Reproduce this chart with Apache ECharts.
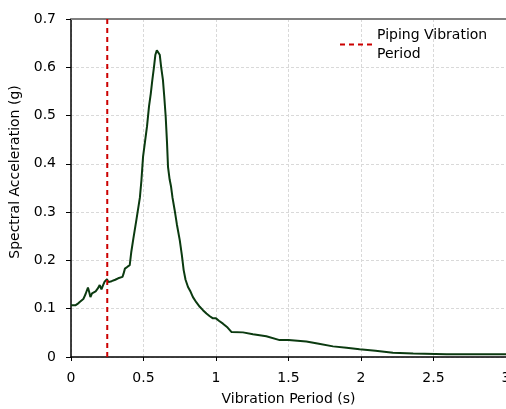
<!DOCTYPE html>
<html>
<head>
<meta charset="utf-8">
<script src="https://cdn.jsdelivr.net/npm/echarts@6/dist/echarts.min.js"></script>
<style>
  html, body { margin: 0; padding: 0; background: #fff; }
  #chart { width: 506px; height: 409px; }
</style>
</head>
<body>
<div id="chart"></div>
<script>
// spectrum
var periods = [0, 0.03, 0.045, 0.06, 0.07, 0.085, 0.1, 0.117, 0.125, 0.134, 0.145, 0.155, 0.17, 0.185, 0.198,
    0.21, 0.22, 0.232, 0.248, 0.258, 0.267, 0.28, 0.29, 0.305, 0.315, 0.325, 0.336, 0.355, 0.362, 0.372,
    0.39, 0.405, 0.416, 0.43, 0.451, 0.475, 0.486, 0.497, 0.51, 0.524, 0.538, 0.55, 0.561, 0.572, 0.582,
    0.592, 0.6, 0.612, 0.622, 0.634, 0.643, 0.653, 0.662, 0.669, 0.68, 0.69, 0.7, 0.715, 0.73, 0.75,
    0.765, 0.777, 0.79, 0.807, 0.825, 0.841, 0.865, 0.888, 0.91, 0.934, 0.955, 0.979, 1.0, 1.02, 1.048,
    1.08, 1.106, 1.186, 1.255, 1.347, 1.439, 1.5, 1.623, 1.7, 1.807, 1.9, 1.99, 2.1, 2.22, 2.36, 2.59, 3.0];
var accel = [0.107, 0.107, 0.110, 0.114, 0.110, 0.120, 0.130, 0.144, 0.135, 0.124, 0.132, 0.135, 0.136, 0.142, 0.149,
    0.140, 0.148, 0.156, 0.161, 0.155, 0.152, 0.157, 0.155, 0.160, 0.159, 0.163, 0.166, 0.166, 0.172, 0.183,
    0.187, 0.190, 0.218, 0.245, 0.284, 0.330, 0.367, 0.415, 0.445, 0.477, 0.519, 0.545, 0.574, 0.600, 0.626,
    0.635, 0.636, 0.626, 0.600, 0.574, 0.540, 0.498, 0.445, 0.394, 0.368, 0.353, 0.330, 0.304, 0.275, 0.242,
    0.210, 0.180, 0.160, 0.145, 0.135, 0.124, 0.113, 0.104, 0.097, 0.090, 0.085, 0.080, 0.080, 0.075, 0.069,
    0.061, 0.052, 0.051, 0.047, 0.043, 0.035, 0.035, 0.032, 0.028, 0.022, 0.019, 0.016, 0.013, 0.009, 0.007, 0.0056, 0.0056];
var pipingPeriod = 0.25;
var yRange = [0, 0.7];

var font = 'DejaVu Sans';

var curve = periods.map(function (p, i) { return [p, accel[i]]; });
var piping = yRange.map(function (v) { return [pipingPeriod, v]; });

var chart = echarts.init(document.getElementById('chart'));
chart.setOption({
    animation: false,
    grid: { left: 71, right: 0, top: 19, bottom: 52, outerBoundsMode: 'none' },
    legend: {
        data: ['Piping Vibration Period'],
        left: 340,
        top: 16,
        padding: 0,
        itemWidth: 32,
        itemHeight: 2,
        // three short dashes like the reference key
        icon: 'path://M0,0h5v2h-5z M9,0h5v2h-5z M18,0h5v2h-5z M27,0h5v2h-5z',
        formatter: function () { return 'Piping Vibration\nPeriod'; },
        textStyle: { fontFamily: font, fontSize: 14, color: '#000', lineHeight: 19, padding: [19, 0, 0, 0] }
    },
    xAxis: [{
        type: 'value',
        min: 0, max: 3, interval: 0.5,
        name: 'Vibration Period (s)',
        nameLocation: 'middle',
        nameGap: 35,
        nameTextStyle: { fontFamily: font, fontSize: 14, color: '#000' },
        axisLine: { lineStyle: { color: '#000', width: 1.5 } },
        axisTick: { length: 4, lineStyle: { color: '#000' } },
        axisLabel: { fontFamily: font, fontSize: 14, color: '#000', margin: 14 },
        splitLine: { lineStyle: { color: '#d9d9d9', type: [3, 2] } }
    }, {
        type: 'value',
        position: 'top',
        min: 0, max: 3,
        axisLine: { show: true, lineStyle: { color: '#808080', width: 2 } },
        axisTick: { show: false },
        axisLabel: { show: false },
        splitLine: { show: false }
    }],
    yAxis: {
        type: 'value',
        min: 0, max: 0.7, interval: 0.1,
        name: 'Spectral Acceleration (g)',
        nameLocation: 'middle',
        nameGap: 45,
        nameTextStyle: { fontFamily: font, fontSize: 14, color: '#000', padding: [0, 0, 0, 32] },
        axisLine: { show: true, lineStyle: { color: '#000', width: 1.5 } },
        axisTick: { show: true, length: 5, lineStyle: { color: '#000' } },
        axisLabel: { fontFamily: font, fontSize: 14, color: '#000', margin: 15 },
        splitLine: { lineStyle: { color: '#d9d9d9', type: [3, 2] } }
    },
    series: [{
        name: 'Spectrum',
        type: 'line',
        data: curve,
        symbol: 'none',
        lineStyle: { color: '#0b3a10', width: 2 },
        itemStyle: { color: '#0b3a10' }
    }, {
        name: 'Piping Vibration Period',
        type: 'line',
        data: piping,
        symbol: 'none',
        lineStyle: { color: '#cc0000', width: 2, type: [5, 4] },
        itemStyle: { color: '#cc0000' }
    }]
});
</script>
</body>
</html>
